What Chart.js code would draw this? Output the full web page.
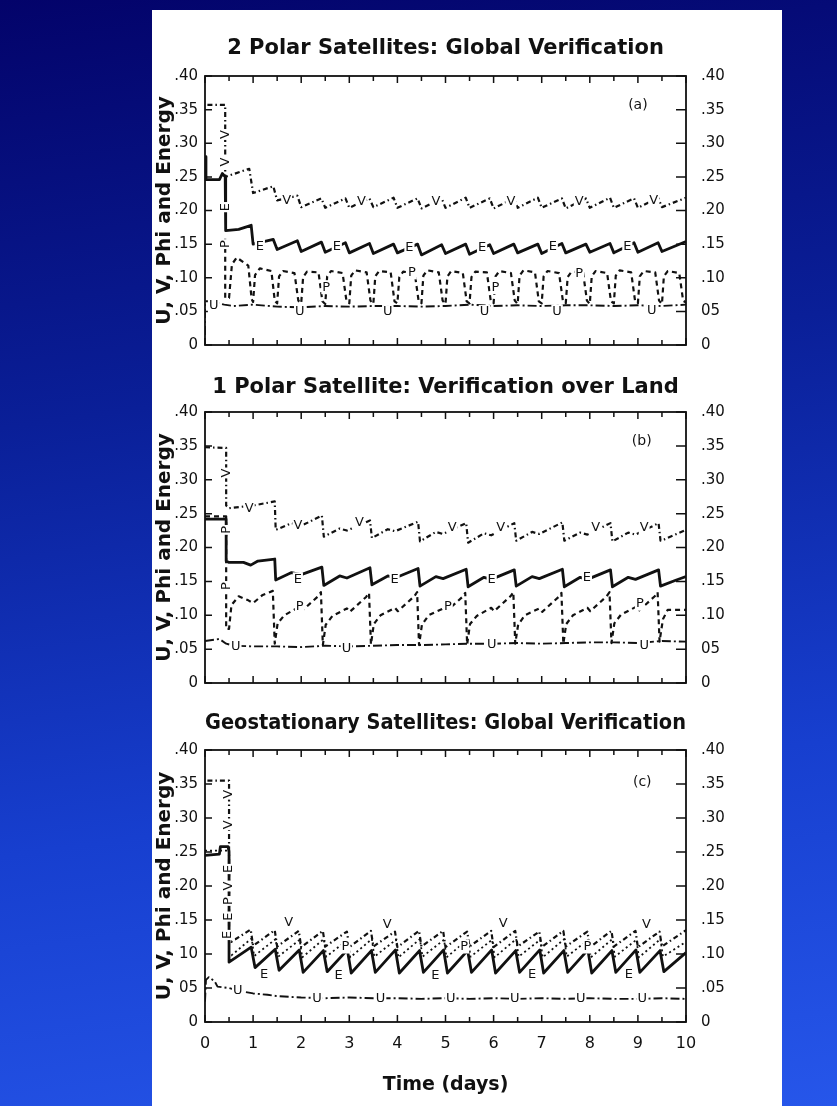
<!DOCTYPE html>
<html>
<head>
<meta charset="utf-8">
<script src="https://cdn.jsdelivr.net/npm/chart.js@4.4.0/dist/chart.umd.min.js"></script>
<style>
  html, body { margin: 0; padding: 0; }
  body {
    width: 837px; height: 1106px; overflow: hidden; position: relative;
    background: linear-gradient(172deg, #03036a 0%, #0a1f98 35%, #173fcf 70%, #2656ea 100%);
  }
  .sheet { position: absolute; left: 152px; top: 10px; width: 630px; height: 1096px; background: #fff; }
  canvas { position: absolute; left: 120px; }
</style>
</head>
<body>
<div class="sheet"></div>
<canvas id="chartA" width="660" height="339" style="top:30px"></canvas>
<canvas id="chartB" width="660" height="339" style="top:368px"></canvas>
<canvas id="chartC" width="660" height="401" style="top:705px"></canvas>
<script>
// ---- data (time in days, error values) ----

// panel (a): 2 polar satellites, global
const aEt = [0, 0.02, 0.30, 0.36, 0.42, 0.43, 0.70, 0.96, 1.00, 1.42, 1.50, 1.92, 2.00, 2.42, 2.50, 2.92, 3.00, 3.42, 3.50, 3.92, 4.00, 4.42, 4.50, 4.92, 5.00, 5.42, 5.50, 5.92, 6.00, 6.42, 6.50, 6.92, 7.00, 7.42, 7.50, 7.92, 8.00, 8.42, 8.50, 8.92, 9.00, 9.42, 9.50, 10];
const aEv = [0.280, 0.246, 0.246, 0.255, 0.250, 0.170, 0.172, 0.178, 0.150, 0.157, 0.142, 0.155, 0.139, 0.153, 0.138, 0.152, 0.137, 0.151, 0.136, 0.150, 0.137, 0.150, 0.134, 0.149, 0.136, 0.150, 0.135, 0.149, 0.136, 0.150, 0.137, 0.150, 0.136, 0.151, 0.137, 0.150, 0.138, 0.151, 0.137, 0.152, 0.138, 0.152, 0.139, 0.154];

const aVt = [0.05, 0.42, 0.42, 0.50, 0.92, 1.00, 1.42, 1.50, 1.92, 2.00, 2.42, 2.50, 2.92, 3.00, 3.42, 3.50, 3.92, 4.00, 4.42, 4.50, 4.92, 5.00, 5.42, 5.50, 5.92, 6.00, 6.42, 6.50, 6.92, 7.00, 7.42, 7.50, 7.92, 8.00, 8.42, 8.50, 8.92, 9.00, 9.42, 9.50, 10];
const aVv = [0.357, 0.357, 0.250, 0.252, 0.262, 0.226, 0.236, 0.215, 0.222, 0.205, 0.218, 0.204, 0.218, 0.204, 0.218, 0.205, 0.219, 0.204, 0.218, 0.203, 0.218, 0.204, 0.219, 0.204, 0.218, 0.203, 0.218, 0.204, 0.219, 0.204, 0.218, 0.203, 0.218, 0.204, 0.219, 0.204, 0.218, 0.204, 0.219, 0.205, 0.219];

const aPt = [0.42, 0.42, 0.50, 0.56, 0.66, 0.90, 0.97, 1.00, 1.04, 1.14, 1.38, 1.45,
  1.50, 1.54, 1.62, 1.86, 1.94, 2.00, 2.04, 2.12, 2.36, 2.44, 2.50, 2.54, 2.62, 2.86, 2.94,
  3.00, 3.04, 3.12, 3.36, 3.44, 3.50, 3.54, 3.62, 3.86, 3.94, 4.00, 4.04, 4.12, 4.36, 4.44,
  4.50, 4.54, 4.62, 4.86, 4.94, 5.00, 5.04, 5.12, 5.36, 5.44, 5.50, 5.54, 5.62, 5.86, 5.94,
  6.00, 6.04, 6.12, 6.36, 6.44, 6.50, 6.54, 6.62, 6.86, 6.94, 7.00, 7.04, 7.12, 7.36, 7.44,
  7.50, 7.54, 7.62, 7.86, 7.94, 8.00, 8.04, 8.12, 8.36, 8.44, 8.50, 8.54, 8.62, 8.86, 8.94,
  9.00, 9.04, 9.12, 9.36, 9.44, 9.50, 9.54, 9.62, 9.86, 9.94, 10];
const aPv = [0.158, 0.070, 0.070, 0.120, 0.130, 0.118, 0.068, 0.064, 0.104, 0.114, 0.110, 0.066,
  0.062, 0.102, 0.110, 0.107, 0.066, 0.062, 0.101, 0.109, 0.108, 0.065, 0.061, 0.102, 0.110, 0.107, 0.066,
  0.062, 0.103, 0.111, 0.108, 0.066, 0.061, 0.102, 0.110, 0.108, 0.065, 0.062, 0.101, 0.109, 0.107, 0.066,
  0.062, 0.103, 0.111, 0.108, 0.066, 0.061, 0.102, 0.110, 0.107, 0.065, 0.062, 0.101, 0.109, 0.108, 0.066,
  0.062, 0.102, 0.110, 0.107, 0.066, 0.061, 0.103, 0.111, 0.108, 0.065, 0.062, 0.102, 0.110, 0.107, 0.066,
  0.062, 0.101, 0.109, 0.108, 0.066, 0.061, 0.102, 0.110, 0.107, 0.065, 0.062, 0.103, 0.111, 0.108, 0.066,
  0.062, 0.102, 0.110, 0.108, 0.066, 0.061, 0.102, 0.110, 0.107, 0.066, 0.063];

const aUt = [0, 0, 0.10, 0.40, 0.60, 1.00, 1.50, 2.00, 2.50, 3.00, 3.50, 4.00, 4.50, 5.00, 5.50, 6.00, 6.50, 7.00, 7.50, 8.00, 8.50, 9.00, 9.50, 10];
const aUv = [0.015, 0.065, 0.065, 0.060, 0.058, 0.060, 0.057, 0.056, 0.058, 0.057, 0.058, 0.058, 0.057, 0.058, 0.060, 0.058, 0.059, 0.058, 0.059, 0.059, 0.058, 0.059, 0.058, 0.060];

// panel (b): 1 polar satellite, over land
const bVt = [0, 0.44, 0.44, 0.50, 1.00, 1.45,
  1.47, 1.80, 2.00, 2.43, 2.47, 2.80, 2.95, 3.43, 3.47, 3.80, 3.95, 4.43, 4.47, 4.80, 4.95, 5.43,
  5.47, 5.80, 5.95, 6.43, 6.47, 6.80, 6.95, 7.43, 7.47, 7.80, 7.95, 8.43, 8.47, 8.80, 8.95, 9.43,
  9.47, 9.55, 10];
const bVv = [0.348, 0.347, 0.262, 0.258, 0.262, 0.268,
  0.226, 0.236, 0.232, 0.247, 0.216, 0.228, 0.225, 0.240, 0.214, 0.227, 0.224, 0.238, 0.209, 0.223, 0.220, 0.236,
  0.207, 0.221, 0.218, 0.236, 0.210, 0.223, 0.220, 0.237, 0.210, 0.222, 0.219, 0.236, 0.209, 0.222, 0.219, 0.236,
  0.210, 0.212, 0.226];

const bEt = [0, 0.44, 0.44, 0.50, 0.80, 0.95, 1.10, 1.45,
  1.47, 1.80, 2.00, 2.43, 2.47, 2.80, 2.95, 3.43, 3.47, 3.80, 3.95, 4.43, 4.47, 4.80, 4.95, 5.43,
  5.47, 5.80, 5.95, 6.43, 6.47, 6.80, 6.95, 7.43, 7.47, 7.80, 7.95, 8.43, 8.47, 8.80, 8.95, 9.43,
  9.47, 9.80, 10];
const bEv = [0.242, 0.242, 0.180, 0.178, 0.178, 0.174, 0.180, 0.183,
  0.152, 0.163, 0.160, 0.171, 0.144, 0.158, 0.155, 0.170, 0.145, 0.158, 0.155, 0.169, 0.143, 0.157, 0.154, 0.168,
  0.142, 0.156, 0.153, 0.167, 0.143, 0.157, 0.154, 0.168, 0.142, 0.156, 0.153, 0.167, 0.142, 0.156, 0.153, 0.167,
  0.143, 0.152, 0.157];

const bPt = [0, 0.44, 0.44, 0.50, 0.55, 0.70, 0.90, 1.00, 1.20, 1.41,
  1.45, 1.51, 1.65, 1.95, 2.01, 2.35, 2.41,
  2.45, 2.51, 2.65, 2.95, 3.01, 3.35, 3.41,
  3.45, 3.51, 3.65, 3.95, 4.01, 4.35, 4.41,
  4.45, 4.51, 4.65, 4.95, 5.01, 5.35, 5.41,
  5.45, 5.51, 5.65, 5.95, 6.01, 6.35, 6.41,
  6.45, 6.51, 6.65, 6.95, 7.01, 7.35, 7.41,
  7.45, 7.51, 7.65, 7.95, 8.01, 8.35, 8.41,
  8.45, 8.51, 8.65, 8.95, 9.01, 9.35, 9.41,
  9.45, 9.52, 9.62, 10];
const bPv = [0.246, 0.246, 0.080, 0.080, 0.115, 0.128, 0.122, 0.118, 0.130, 0.136,
  0.058, 0.088, 0.100, 0.112, 0.106, 0.128, 0.134,
  0.056, 0.086, 0.099, 0.110, 0.105, 0.127, 0.133,
  0.057, 0.087, 0.100, 0.111, 0.106, 0.128, 0.134,
  0.056, 0.086, 0.100, 0.110, 0.105, 0.127, 0.133,
  0.057, 0.087, 0.099, 0.111, 0.106, 0.128, 0.134,
  0.058, 0.086, 0.100, 0.110, 0.105, 0.127, 0.133,
  0.058, 0.087, 0.100, 0.111, 0.106, 0.128, 0.134,
  0.059, 0.088, 0.101, 0.112, 0.106, 0.128, 0.134,
  0.061, 0.094, 0.108, 0.108];

const bUt = [0, 0.30, 0.44, 0.60, 1.00, 1.50, 2.00, 2.50, 3.00, 3.50, 4.00, 4.50, 5.00, 5.50, 6.00, 6.50, 7.00, 7.50, 8.00, 8.50, 9.00, 9.50, 10];
const bUv = [0.062, 0.065, 0.058, 0.055, 0.054, 0.054, 0.053, 0.055, 0.054, 0.055, 0.056, 0.056, 0.057, 0.058, 0.058, 0.059, 0.058, 0.059, 0.060, 0.060, 0.059, 0.062, 0.061];

// panel (c): geostationary satellites, global
const cVt = [0.05, 0.50, 0.50, 0.55, 0.95, 1.00, 1.45, 1.50, 1.95, 2.00, 2.45, 2.50, 2.95, 3.00, 3.45, 3.50, 3.95, 4.00, 4.45, 4.50, 4.95, 5.00, 5.45, 5.50, 5.95, 6.00, 6.45, 6.50, 6.95, 7.00, 7.45, 7.50, 7.95, 8.00, 8.45, 8.50, 8.95, 9.00, 9.45, 9.50, 10];
const cVv = [0.355, 0.355, 0.125, 0.118, 0.136, 0.112, 0.135, 0.111, 0.134, 0.110, 0.134, 0.111, 0.133, 0.110, 0.134, 0.111, 0.133, 0.110, 0.134, 0.111, 0.134, 0.110, 0.133, 0.111, 0.134, 0.110, 0.134, 0.111, 0.133, 0.110, 0.134, 0.111, 0.133, 0.110, 0.134, 0.111, 0.134, 0.110, 0.133, 0.111, 0.135];

const cEt = [0, 0.30, 0.32, 0.48, 0.50, 0.50, 0.96, 1.04, 1.46, 1.54, 1.96, 2.04, 2.46, 2.54, 2.96, 3.04, 3.46, 3.54, 3.96, 4.04, 4.46, 4.54, 4.96, 5.04, 5.46, 5.54, 5.96, 6.04, 6.46, 6.54, 6.96, 7.04, 7.46, 7.54, 7.96, 8.04, 8.46, 8.54, 8.96, 9.04, 9.46, 9.54, 10];
const cEv = [0.245, 0.247, 0.258, 0.258, 0.250, 0.088, 0.110, 0.080, 0.107, 0.076, 0.106, 0.073, 0.105, 0.074, 0.106, 0.072, 0.105, 0.073, 0.106, 0.072, 0.105, 0.073, 0.106, 0.072, 0.105, 0.073, 0.106, 0.072, 0.105, 0.073, 0.106, 0.072, 0.105, 0.073, 0.106, 0.072, 0.105, 0.073, 0.106, 0.073, 0.105, 0.074, 0.102];

const cPt = [0, 0.50, 0.50, 0.55, 0.97, 1.02, 1.47, 1.52, 1.97, 2.02, 2.47, 2.52, 2.97, 3.02, 3.47, 3.52, 3.97, 4.02, 4.47, 4.52, 4.97, 5.02, 5.47, 5.52, 5.97, 6.02, 6.47, 6.52, 6.97, 7.02, 7.47, 7.52, 7.97, 8.02, 8.47, 8.52, 8.97, 9.02, 9.47, 9.52, 10];
const cPv = [0.252, 0.252, 0.100, 0.098, 0.123, 0.097, 0.122, 0.096, 0.121, 0.095, 0.122, 0.096, 0.121, 0.095, 0.122, 0.096, 0.121, 0.095, 0.122, 0.096, 0.121, 0.095, 0.122, 0.096, 0.121, 0.095, 0.122, 0.096, 0.121, 0.095, 0.122, 0.096, 0.121, 0.095, 0.122, 0.096, 0.121, 0.095, 0.122, 0.096, 0.118];

const cUt = [0, 0.02, 0.08, 0.20, 0.26, 0.50, 0.70, 1.00, 1.30, 1.50, 2.00, 2.50, 3.00, 3.50, 4.00, 4.50, 5.00, 5.50, 6.00, 6.50, 7.00, 7.50, 8.00, 8.50, 9.00, 9.50, 10];
const cUv = [0.030, 0.062, 0.066, 0.060, 0.052, 0.050, 0.046, 0.042, 0.040, 0.038, 0.036, 0.035, 0.036, 0.035, 0.035, 0.034, 0.035, 0.034, 0.035, 0.034, 0.035, 0.034, 0.035, 0.034, 0.034, 0.035, 0.034];

// tick labels, as printed (index = value / 0.05)
const aLeftLabels = ['0', '.05', '.10', '.15', '.20', '.25', '.30', '.35', '.40'];
const aRightLabels = ['0', '05', '.10', '.15', '.20', '.25', '.30', '.35', '.40'];
const bLeftLabels = ['0', '.05', '.10', '.15', '.20', '.25', '.30', '.35', '.40'];
const bRightLabels = ['0', '05', '.10', '.15', '.20', '.25', '.30', '.35', '.40'];
const cLeftLabels = ['0', '05', '10', '.15', '.20', '.25', '.30', '.35', '.40'];
const cRightLabels = ['0', '.05', '.10', '.15', '.20', '.25', '.30', '.35', '.40'];
const xTickLabels = ['0', '1', '2', '3', '4', '5', '6', '7', '8', '9', '10'];
const xMarks = [0, 0.5, 1, 1.5, 2, 2.5, 3, 3.5, 4, 4.5, 5, 5.5, 6, 6.5, 7, 7.5, 8, 8.5, 9, 9.5, 10];
const yMarks = [0, 0.05, 0.10, 0.15, 0.20, 0.25, 0.30, 0.35, 0.40];

// curve letters along the lines: [text, time, value, rotated]
const aNotes = [
  ['V', 0.42, 0.313, 1], ['V', 0.42, 0.272, 1], ['E', 0.42, 0.205, 1], ['P', 0.42, 0.150, 1],
  ['E', 1.14, 0.147], ['E', 2.74, 0.146], ['E', 4.25, 0.145], ['E', 5.76, 0.145], ['E', 7.23, 0.146], ['E', 8.78, 0.147],
  ['V', 1.70, 0.214], ['V', 3.25, 0.213], ['V', 4.80, 0.213], ['V', 6.36, 0.213], ['V', 7.78, 0.213], ['V', 9.33, 0.214],
  ['P', 2.52, 0.086], ['P', 4.30, 0.108], ['P', 6.04, 0.086], ['P', 7.78, 0.106],
  ['U', 0.18, 0.058], ['U', 1.97, 0.050], ['U', 3.80, 0.049], ['U', 5.81, 0.049], ['U', 7.32, 0.050], ['U', 9.29, 0.051],
  ['(a)', 9.0, 0.356]
];
const bNotes = [
  ['V', 0.44, 0.310, 1], ['P', 0.44, 0.226, 1], ['P', 0.44, 0.143, 1],
  ['V', 0.92, 0.258], ['V', 1.93, 0.232], ['V', 3.21, 0.236], ['V', 5.14, 0.229], ['V', 6.15, 0.229], ['V', 8.12, 0.229], ['V', 9.13, 0.229],
  ['E', 1.93, 0.153], ['E', 3.94, 0.153], ['E', 5.96, 0.153], ['E', 7.94, 0.155],
  ['P', 1.97, 0.113], ['P', 5.05, 0.113], ['P', 9.04, 0.117],
  ['U', 0.64, 0.054], ['U', 2.94, 0.051], ['U', 5.96, 0.057], ['U', 9.13, 0.055],
  ['(b)', 9.08, 0.356]
];
const cNotes = [
  ['V', 0.50, 0.335, 1], ['V', 0.50, 0.290, 1], ['E', 0.50, 0.225, 1], ['V', 0.50, 0.200, 1],
  ['P', 0.50, 0.178, 1], ['E', 0.50, 0.155, 1], ['E', 0.47, 0.128, 1],
  ['V', 1.74, 0.146], ['V', 3.79, 0.143], ['V', 6.20, 0.145], ['V', 9.18, 0.143],
  ['P', 2.92, 0.111], ['P', 5.39, 0.111], ['P', 7.95, 0.111],
  ['E', 1.23, 0.070], ['E', 2.78, 0.068], ['E', 4.79, 0.068], ['E', 6.80, 0.069], ['E', 8.81, 0.069],
  ['U', 0.68, 0.046], ['U', 2.33, 0.035], ['U', 3.65, 0.035], ['U', 5.11, 0.035], ['U', 6.44, 0.035], ['U', 7.81, 0.035], ['U', 9.09, 0.035],
  ['(c)', 9.09, 0.353]
];

const FONT = 'DejaVu Sans';
const INK = '#111';

// line look for each quantity
const lineStyles = {
  E: { borderWidth: 2.8, borderDash: [] },
  V: { borderWidth: 2.2, borderDash: [5, 3, 1.5, 3] },
  P: { borderWidth: 2.2, borderDash: [5, 4] },
  Pdot: { borderWidth: 1.8, borderDash: [2, 3] },
  U: { borderWidth: 1.9, borderDash: [9, 3, 2, 3] }
};

function pts(ts, vs) {
  const n = Math.min(ts.length, vs.length);
  const out = [];
  for (let i = 0; i < n; i++) out.push({ x: ts[i], y: vs[i] });
  return out;
}

// box round the plot and inward tick marks on all four sides
const frameTicks = {
  id: 'frameTicks',
  afterDatasetsDraw(chart) {
    const { ctx, chartArea: a, scales } = chart;
    const x = scales.x, y = scales.y;
    ctx.save();
    ctx.strokeStyle = INK;
    ctx.lineWidth = 1.8;
    ctx.strokeRect(a.left, a.top, a.right - a.left, a.bottom - a.top);
    ctx.lineWidth = 1.5;
    ctx.beginPath();
    xMarks.forEach(t => {
      const px = x.getPixelForValue(t);
      const len = Number.isInteger(t) ? 7 : 5;
      ctx.moveTo(px, a.bottom); ctx.lineTo(px, a.bottom - len);
      ctx.moveTo(px, a.top); ctx.lineTo(px, a.top + len);
    });
    yMarks.forEach(v => {
      const py = y.getPixelForValue(v);
      ctx.moveTo(a.left, py); ctx.lineTo(a.left + 7, py);
      ctx.moveTo(a.right, py); ctx.lineTo(a.right - 10, py);
    });
    ctx.stroke();
    ctx.restore();
  }
};

// letters that sit on the curves (white behind, so the line breaks there)
const curveNotes = {
  id: 'curveNotes',
  afterDatasetsDraw(chart, args, opts) {
    const { ctx, scales } = chart;
    ctx.save();
    ctx.textAlign = 'center';
    ctx.textBaseline = 'middle';
    (opts.items || []).forEach(([s, t, v, rot]) => {
      const px = scales.x.getPixelForValue(t);
      const py = scales.y.getPixelForValue(v);
      const big = s.length > 1;
      ctx.font = (big ? '14px ' : '13px ') + FONT;
      const w = ctx.measureText(s).width + 2;
      ctx.save();
      ctx.translate(px, py);
      if (rot) ctx.rotate(-Math.PI / 2);
      if (!big) {
        ctx.fillStyle = '#fff';
        ctx.fillRect(-w / 2, -7, w, 14);
      }
      ctx.fillStyle = INK;
      ctx.fillText(s, 0, 0);
      ctx.restore();
    });
    ctx.restore();
  }
};

function makeDataset(ts, vs, kind) {
  return Object.assign({
    data: pts(ts, vs),
    showLine: true,
    pointRadius: 0,
    borderColor: INK,
    tension: 0,
    fill: false,
    borderCapStyle: 'butt',
    borderJoinStyle: 'round',
    yAxisID: 'y'
  }, lineStyles[kind]);
}

function buildPanel(id, title, series, leftLabels, rightLabels, notes, showTime, titlePad) {
  const tickFont = { family: FONT, size: 15 };
  const noGrid = { display: false, drawTicks: false };
  return new Chart(document.getElementById(id), {
    type: 'scatter',
    data: { datasets: series.map(s => makeDataset(s[0], s[1], s[2])) },
    options: {
      responsive: false,
      animation: false,
      events: [],
      layout: { padding: 0 },
      plugins: {
        legend: { display: false },
        tooltip: { enabled: false },
        title: {
          display: true, text: title, color: INK, fullSize: false,
          font: { family: FONT, size: 21, weight: 'bold' },
          padding: titlePad
        },
        curveNotes: { items: notes }
      },
      scales: {
        x: {
          type: 'linear', min: 0, max: 10,
          grid: noGrid, border: { display: false },
          ticks: {
            display: showTime, stepSize: 1, autoSkip: false, maxRotation: 0, padding: 12,
            color: INK, font: { family: FONT, size: 16 },
            callback: v => Number.isInteger(v) ? xTickLabels[v] : ''
          },
          title: {
            display: showTime, text: 'Time (days)', color: INK,
            font: { family: FONT, size: 19, weight: 'bold' }, padding: { top: 0, bottom: 10 }
          },
          afterFit: s => { s.height = showTime ? 84 : 20; }
        },
        y: {
          position: 'left', min: 0, max: 0.4,
          grid: noGrid, border: { display: false },
          ticks: {
            stepSize: 0.05, padding: 7, color: INK, font: tickFont,
            callback: v => leftLabels[Math.round(v / 0.05)]
          },
          title: {
            display: true, text: 'U, V, Phi and Energy', color: INK,
            font: { family: FONT, size: 20, weight: 'bold' }, padding: { top: 33, bottom: 0 }
          },
          afterFit: s => { s.width = 85; }
        },
        y2: {
          position: 'right', min: 0, max: 0.4,
          grid: noGrid, border: { display: false },
          ticks: {
            stepSize: 0.05, padding: 15, color: INK, font: tickFont,
            callback: v => rightLabels[Math.round(v / 0.05)]
          },
          afterFit: s => { s.width = 94; }
        }
      }
    },
    plugins: [frameTicks, curveNotes]
  });
}

buildPanel('chartA', '2 Polar Satellites: Global Verification',
  [[aUt, aUv, 'U'], [aPt, aPv, 'P'], [aVt, aVv, 'V'], [aEt, aEv, 'E']],
  aLeftLabels, aRightLabels, aNotes, false, { top: 6.4, bottom: 14.4 });

buildPanel('chartB', '1 Polar Satellite: Verification over Land',
  [[bUt, bUv, 'U'], [bPt, bPv, 'P'], [bVt, bVv, 'V'], [bEt, bEv, 'E']],
  bLeftLabels, bRightLabels, bNotes, false, { top: 7.4, bottom: 11.4 });

buildPanel('chartC', 'Geostationary Satellites: Global Verification',
  [[cUt, cUv, 'U'], [cPt, cPv, 'Pdot'], [cVt, cVv, 'V'], [cEt, cEv, 'E']],
  cLeftLabels, cRightLabels, cNotes, true, { top: 6.4, bottom: 13.4 });
</script>
</body>
</html>
